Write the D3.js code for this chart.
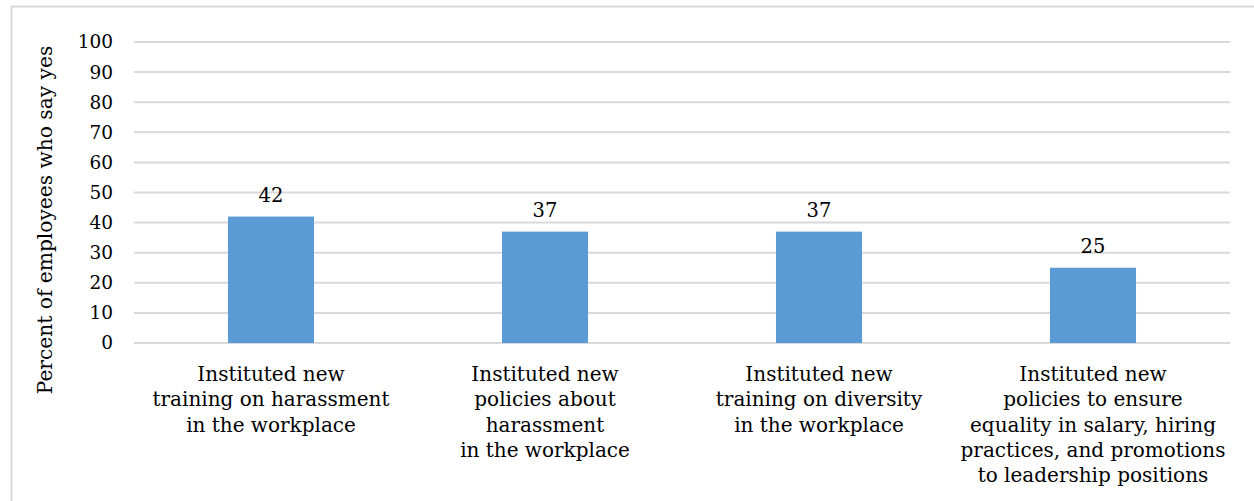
<!DOCTYPE html>
<html>
<head>
<meta charset="utf-8">
<script src="https://cdn.jsdelivr.net/npm/d3@7"></script>
<style>
  html, body { margin: 0; padding: 0; background: #fff; }
  svg { display: block; }
  text { font-family: "DejaVu Serif", serif; fill: #000; }
</style>
</head>
<body>
<svg id="chart" width="1254" height="501"></svg>
<script>
// Survey actions and share of employees who report each one
const categories = [
  ["Instituted new", "training on harassment", "in the workplace"],
  ["Instituted new", "policies about", "harassment", "in the workplace"],
  ["Instituted new", "training on diversity", "in the workplace"],
  ["Instituted new", "policies to ensure", "equality in salary, hiring", "practices, and promotions", "to leadership positions"]
];
const values = [42, 37, 37, 25];
const yTicks = [0, 10, 20, 30, 40, 50, 60, 70, 80, 90, 100];
const yTitle = "Percent of employees who say yes";

const svg = d3.select("#chart");
const plot = { left: 134, right: 1230, top: 42, bottom: 343 };

// chart frame
svg.append("rect")
  .attr("x", 11.5).attr("y", 6.5)
  .attr("width", 1260).attr("height", 520)
  .attr("fill", "none").attr("stroke", "#d9d9d9").attr("stroke-width", 2);

const x = d3.scaleBand()
  .domain(d3.range(categories.length))
  .range([plot.left, plot.right])
  .paddingInner(0.686).paddingOuter(0.343);

const y = d3.scaleLinear().domain([0, 100]).range([plot.bottom, plot.top]);

// horizontal gridlines
svg.append("g").selectAll("line")
  .data(yTicks)
  .join("line")
  .attr("x1", plot.left).attr("x2", plot.right)
  .attr("y1", d => y(d)).attr("y2", d => y(d))
  .attr("stroke", "#d9d9d9").attr("stroke-width", 2);

// y axis tick labels
const yAxis = d3.axisLeft(y).tickValues(yTicks).tickSize(0).tickPadding(0);
const yg = svg.append("g").attr("transform", `translate(${plot.left - 21},0)`).call(yAxis);
yg.select(".domain").remove();
yg.selectAll("text")
  .attr("font-family", "DejaVu Serif, serif")
  .attr("font-size", 18.5)
  .attr("fill", "#000");

// bars
svg.append("g").selectAll("rect")
  .data(values)
  .join("rect")
  .attr("x", (d, i) => x(i))
  .attr("width", x.bandwidth())
  .attr("y", d => y(d))
  .attr("height", d => y(0) - y(d))
  .attr("fill", "#5b9bd5");

// value labels
svg.append("g").selectAll("text")
  .data(values)
  .join("text")
  .attr("x", (d, i) => x(i) + x.bandwidth() / 2)
  .attr("y", d => y(d) - 15)
  .attr("text-anchor", "middle")
  .attr("font-size", 19.5)
  .text(d => d);

// category labels
const catG = svg.append("g").selectAll("text")
  .data(categories)
  .join("text")
  .attr("text-anchor", "middle")
  .attr("font-size", 20);
catG.selectAll("tspan")
  .data((d, i) => d.map(line => ({ line, i })))
  .join("tspan")
  .attr("x", d => x(d.i) + x.bandwidth() / 2)
  .attr("y", (d, j) => 381 + j * 25.3)
  .text(d => d.line);

// y axis title
svg.append("text")
  .attr("transform", "translate(52,220) rotate(-90)")
  .attr("text-anchor", "middle")
  .attr("font-size", 20.2)
  .text(yTitle);
</script>
</body>
</html>
